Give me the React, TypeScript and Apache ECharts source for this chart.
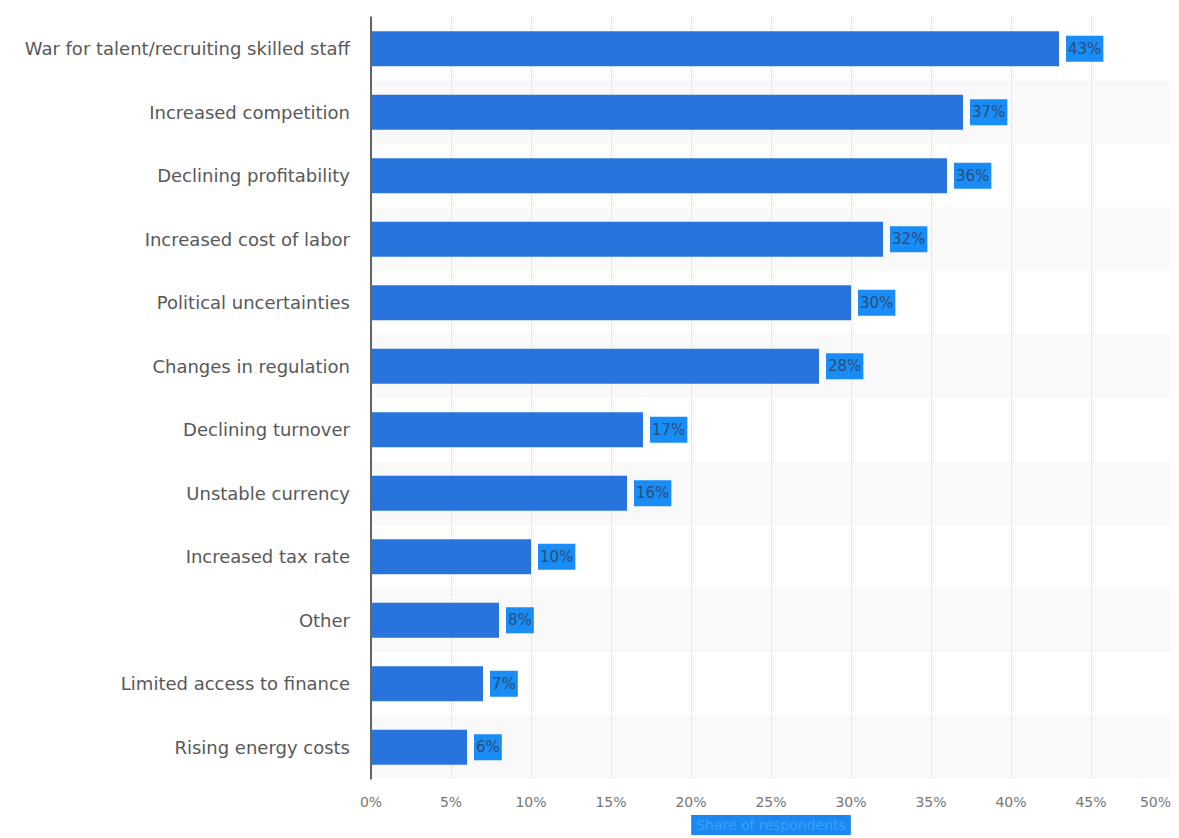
import React, { useEffect, useRef } from "react";
import * as echarts from "echarts";

const categories = [
  "War for talent/recruiting skilled staff",
  "Increased competition",
  "Declining profitability",
  "Increased cost of labor",
  "Political uncertainties",
  "Changes in regulation",
  "Declining turnover",
  "Unstable currency",
  "Increased tax rate",
  "Other",
  "Limited access to finance",
  "Rising energy costs",
];
const values = [43, 37, 36, 32, 30, 28, 17, 16, 10, 8, 7, 6];

export default function App() {
  const ref = useRef<HTMLDivElement>(null);
  useEffect(() => {
    if (!ref.current) return;
    document.documentElement.style.overflow = "hidden";
    const chart = echarts.init(ref.current, null, { renderer: "svg" });
    chart.setOption({
      animation: false,
      grid: { left: 363, right: 0, top: 9, bottom: 59, outerBoundsMode: "none", containLabel: false },
      xAxis: {
        type: "value",
        min: 0,
        max: 50,
        interval: 5,
        axisLine: { show: false },
        axisTick: { show: false },
        axisLabel: {
          formatter: "{value}%",
          color: "#777",
          fontFamily: "DejaVu Sans",
          fontSize: 14,
          margin: 16,
          alignMaxLabel: "right",
        },
        splitLine: { show: true, lineStyle: { color: "#d4d4d4", type: "dotted", width: 1 } },
        name: "Share of respondents",
        nameLocation: "middle",
        nameGap: 36,
        nameTextStyle: {
          color: "#3aa0ff",
          backgroundColor: "#1a88f0",
          fontFamily: "DejaVu Sans",
          fontSize: 14,
          padding: [3, 5, 3, 5],
        },
      },
      yAxis: {
        type: "category",
        data: categories,
        inverse: true,
        axisLine: { show: true, lineStyle: { color: "#333", width: 1.5 } },
        axisTick: { show: false },
        axisLabel: {
          color: "#585858",
          fontFamily: "DejaVu Sans",
          fontSize: 18,
          margin: 21,
        },
        splitArea: { show: true, areaStyle: { color: ["#ffffff", "#f9f9f9"] } },
      },
      series: [
        {
          type: "bar",
          data: values,
          barWidth: 35,
          itemStyle: { color: "#2873dc" },
          label: {
            show: true,
            position: "right",
            distance: 7,
            formatter: "{c}%",
            color: "#2a4c78",
            backgroundColor: "#1a8cf5",
            fontFamily: "DejaVu Sans",
            fontSize: 15,
            padding: [6, 2, 5, 2],
          },
        },
      ],
    });
    return () => chart.dispose();
  }, []);
  return <div ref={ref} style={{ width: 1163, height: 830 }} />;
}
